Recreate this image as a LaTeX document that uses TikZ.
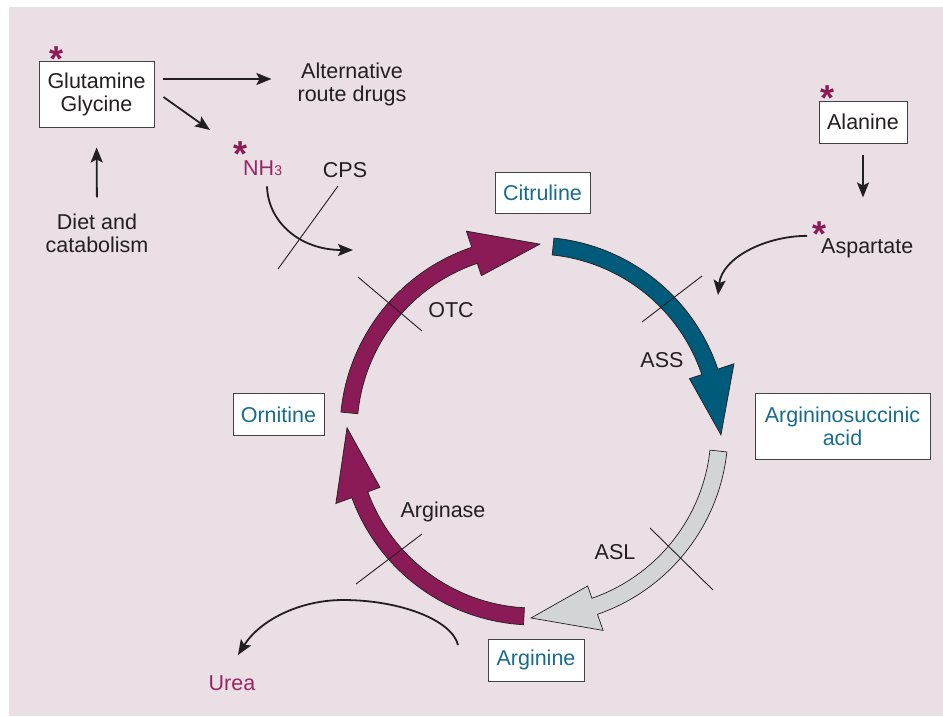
\documentclass[tikz,border=0pt]{standalone}
\usepackage{fontspec}
\setmainfont{Liberation Sans}
\usetikzlibrary{arrows.meta,calc}
\definecolor{bgpink}{RGB}{233,223,228}
\definecolor{mag}{RGB}{139,27,86}
\definecolor{magtxt}{RGB}{150,38,100}
\definecolor{tealf}{RGB}{0,90,122}
\definecolor{tealtxt}{RGB}{25,108,140}
\definecolor{greyf}{RGB}{211,212,214}
\definecolor{ink}{RGB}{35,31,32}
\newcommand{\cycarrow}[4]{%
  \filldraw[cyc, fill=#4, shift={(534,431)}]
    (#1:194) arc[start angle=#1, end angle=#2, radius=194]
    -- (#2:211) -- (#3:187) -- (#2:164) -- (#2:177)
    arc[start angle=#2, end angle=#1, radius=177] -- cycle;}
\newcommand{\astglyph}{\raisebox{-0.42em}[0.32em][0pt]{*}}
\begin{document}
\begin{tikzpicture}[x=1pt,y=-1pt,
  every node/.style={font=\fontsize{21.5}{23}\selectfont, text=ink, inner sep=0pt},
  box/.style={draw=ink!85, line width=0.9pt, fill=white, align=center},
  lbl/.style={align=center},
  star/.style={text=mag, anchor=center, font=\fontsize{36}{36}\bfseries\selectfont},
  arr/.style={draw=ink, line width=1.8pt, -{Stealth[length=15pt,width=12pt,inset=3pt]}},
  crossln/.style={draw=ink, line width=0.9pt},
  cyc/.style={draw=ink, line width=0.7pt, line join=miter}
]
\useasboundingbox (0,0) rectangle (943,716);
\fill[white] (0,0) rectangle (943,716);
\fill[bgpink] (9,7) rectangle (943,716);

% cycle arrows
\cycarrow{-174.4}{-108.7}{-88.2}{mag}
\cycarrow{-84.1}{-18.6}{1.2}{tealf}
\cycarrow{6.2}{70.9}{90.9}{greyf}
\cycarrow{93.1}{159.9}{181}{mag}

% boxes
\node[box, minimum width=115, minimum height=66] (glut) at (96.5,94) {Glutamine\\Glycine};
\node[box, minimum width=88, minimum height=42] (alanine) at (863,122) {Alanine};
\node[box, minimum width=95, minimum height=41, text=tealtxt] (citr) at (542.5,192.5) {Citruline};
\node[box, minimum width=175, minimum height=66, text=tealtxt] (argsucc) at (842.5,426) {Argininosuccinic\\acid};
\node[box, minimum width=96, minimum height=42, text=tealtxt] (arginine) at (536,660) {Arginine};
\node[box, minimum width=91, minimum height=42, text=tealtxt] (orn) at (278.5,414.5) {Ornitine};

% labels
\node[lbl] (alt) at (352,84) {Alternative\\route drugs};
\node[lbl] (diet) at (97,233) {Diet and\\catabolism};
\node[anchor=base west, text=magtxt] (nh3) at (243,175) {NH{\fontsize{14}{14}\selectfont 3}};
\node[anchor=base] (cps) at (345,177) {CPS};
\node[anchor=base] (otc) at (451,317) {OTC};
\node[anchor=base] (ass) at (662,367) {ASS};
\node[anchor=base west] (asp) at (821,253) {Aspartate};
\node[anchor=base] (asl) at (615,559) {ASL};
\node[anchor=base] (arginase) at (443,517) {Arginase};
\node[anchor=base, text=magtxt] (urea) at (232,690) {Urea};

% asterisks
\node[star] (s1) at (57,51) {\astglyph};
\node[star] (s2) at (241,146) {\astglyph};
\node[star] (s3) at (827,90) {\astglyph};
\node[star] (s4) at (819,226) {\astglyph};

% black connectors
\draw[arr] ($(glut.east)+(9,-15)$) -- ($(alt.west)+(-26,-5)$);
\draw[arr] ($(glut.east)+(9,3)$) -- ($(nh3.north west)+(-33,-30)$);
\draw[arr, shorten <=16pt, shorten >=20pt] (diet.north) -- (glut.south);
\draw[arr, shorten <=12pt] (alanine.south) -- ($(alanine.south)+(0,54)$);
\coordinate (nh3end) at (353,250);
\draw[arr] ($(nh3.south west)+(24,11)$) .. controls (268,222) and (300,250) .. (nh3end);
\coordinate (aspend) at (718,295);
\draw[arr] ($(asp.west)+(-14,-12)$) .. controls (765,236) and (722,258) .. (aspend);
\coordinate (ureastart) at (458,645);
\draw[arr] (ureastart) .. controls (452,620) and (400,600) .. (343,600)
  .. controls (300,600) and (260,620) .. ($(urea.north)+(6,-20)$);

% enzyme block marks
\draw[crossln] (278,269) -- (338,186);
\draw[crossln] (358,277) -- (422,331);
\draw[crossln] (642,322) -- (702,276);
\draw[crossln] (650,528) -- (713,590);
\draw[crossln] (356,584) -- (422,534);
\end{tikzpicture}
\end{document}
